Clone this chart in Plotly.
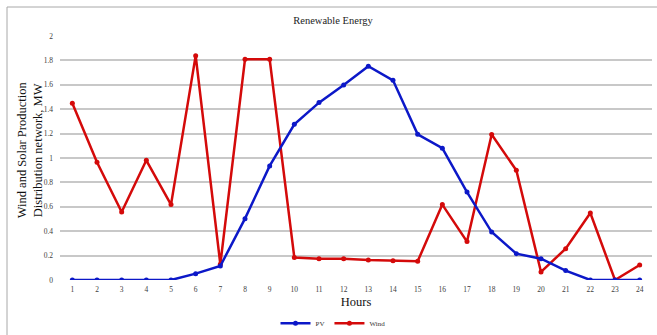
import plotly.graph_objects as go

hours = list(range(1, 25))
pv = [0, 0, 0, 0, 0, 0.052, 0.115, 0.503, 0.935, 1.276, 1.454, 1.598, 1.752, 1.637,
      1.194, 1.08, 0.721, 0.393, 0.216, 0.175, 0.077, 0, 0, 0]
wind = [1.448, 0.965, 0.557, 0.981, 0.618, 1.839, 0.129, 1.809, 1.809, 0.184, 0.174, 0.174,
        0.164, 0.157, 0.153, 0.618, 0.315, 1.192, 0.899, 0.066, 0.257, 0.549, 0, 0.123]
y_ticks = [0, 0.2, 0.4, 0.6, 0.8, 1, 1.2, 1.4, 1.6, 1.8, 2]
y_labels = ["0", "0.2", "0.4", "0.6", "0.8", "1", "1.2", "1.4", "1.6", "1.8", "2"]

serif = "Liberation Serif, Times New Roman, serif"
blue = "#0c18c8"
red = "#d40a0a"

fig = go.Figure()
fig.add_trace(go.Scatter(x=hours, y=wind, name="Wind", mode="lines+markers",
                         line=dict(color=red, width=2.5),
                         marker=dict(color=red, size=5), legendrank=2))
fig.add_trace(go.Scatter(x=hours, y=pv, name="PV", mode="lines+markers",
                         line=dict(color=blue, width=2.5),
                         marker=dict(color=blue, size=5), legendrank=1))

L, R, T, B = 60, 5, 36, 55
W, H = 657, 335
pw = W - L - R
ph = H - T - B
fx = (7 - L) / pw
fy = 1 + (T - 7) / ph

fig.update_layout(
    width=W, height=H,
    margin=dict(l=L, r=R, t=T, b=B, autoexpand=False),
    paper_bgcolor="white", plot_bgcolor="white",
    font=dict(family=serif, color="#000000"),
    title=dict(text="Renewable Energy", x=333 / W, xanchor="center",
               y=1 - 20 / H, yanchor="middle",
               font=dict(family=serif, size=10.5, color="#222222")),
    xaxis=dict(range=[0.5, 24.5], tickmode="array", tickvals=hours,
               ticktext=[str(h) for h in hours], showgrid=False, zeroline=False,
               showline=False, ticks="", ticklabelstandoff=3,
               tickfont=dict(family=serif, size=7.5, color="#404040"),
               title=dict(text="Hours", font=dict(family=serif, size=12.5, color="#111111"),
                          standoff=4)),
    yaxis=dict(range=[0, 2], tickmode="array", tickvals=y_ticks, ticktext=y_labels,
               showgrid=True, gridcolor="#c8c8c8", gridwidth=1.5, zeroline=False,
               showline=False, ticks="", ticklabelstandoff=6,
               tickfont=dict(family=serif, size=7.5, color="#404040")),
    legend=dict(orientation="h", x=(333 - L) / pw, xanchor="center",
                y=-(323 - 279.7) / ph, yanchor="middle",
                font=dict(family=serif, size=7, color="#333333"), itemwidth=30,
                traceorder="normal", tracegroupgap=0),
    showlegend=True,
    annotations=[
        dict(text="Wind and Solar Production<br>Distribution network, MW",
             xref="paper", yref="paper", x=(30 - L) / pw, y=(279.7 - 150) / ph,
             xanchor="center", yanchor="middle", textangle=-90, showarrow=False,
             font=dict(family=serif, size=12.5, color="#111111")),
    ],
    shapes=[
        dict(type="line", xref="paper", yref="paper", x0=fx, x1=1.2, y0=fy, y1=fy,
             line=dict(color="#a8a8a8", width=1)),
        dict(type="line", xref="paper", yref="paper", x0=fx, x1=fx, y0=fy, y1=-0.5,
             line=dict(color="#a8a8a8", width=1)),
    ],
)

fig.write_html("out.html")
